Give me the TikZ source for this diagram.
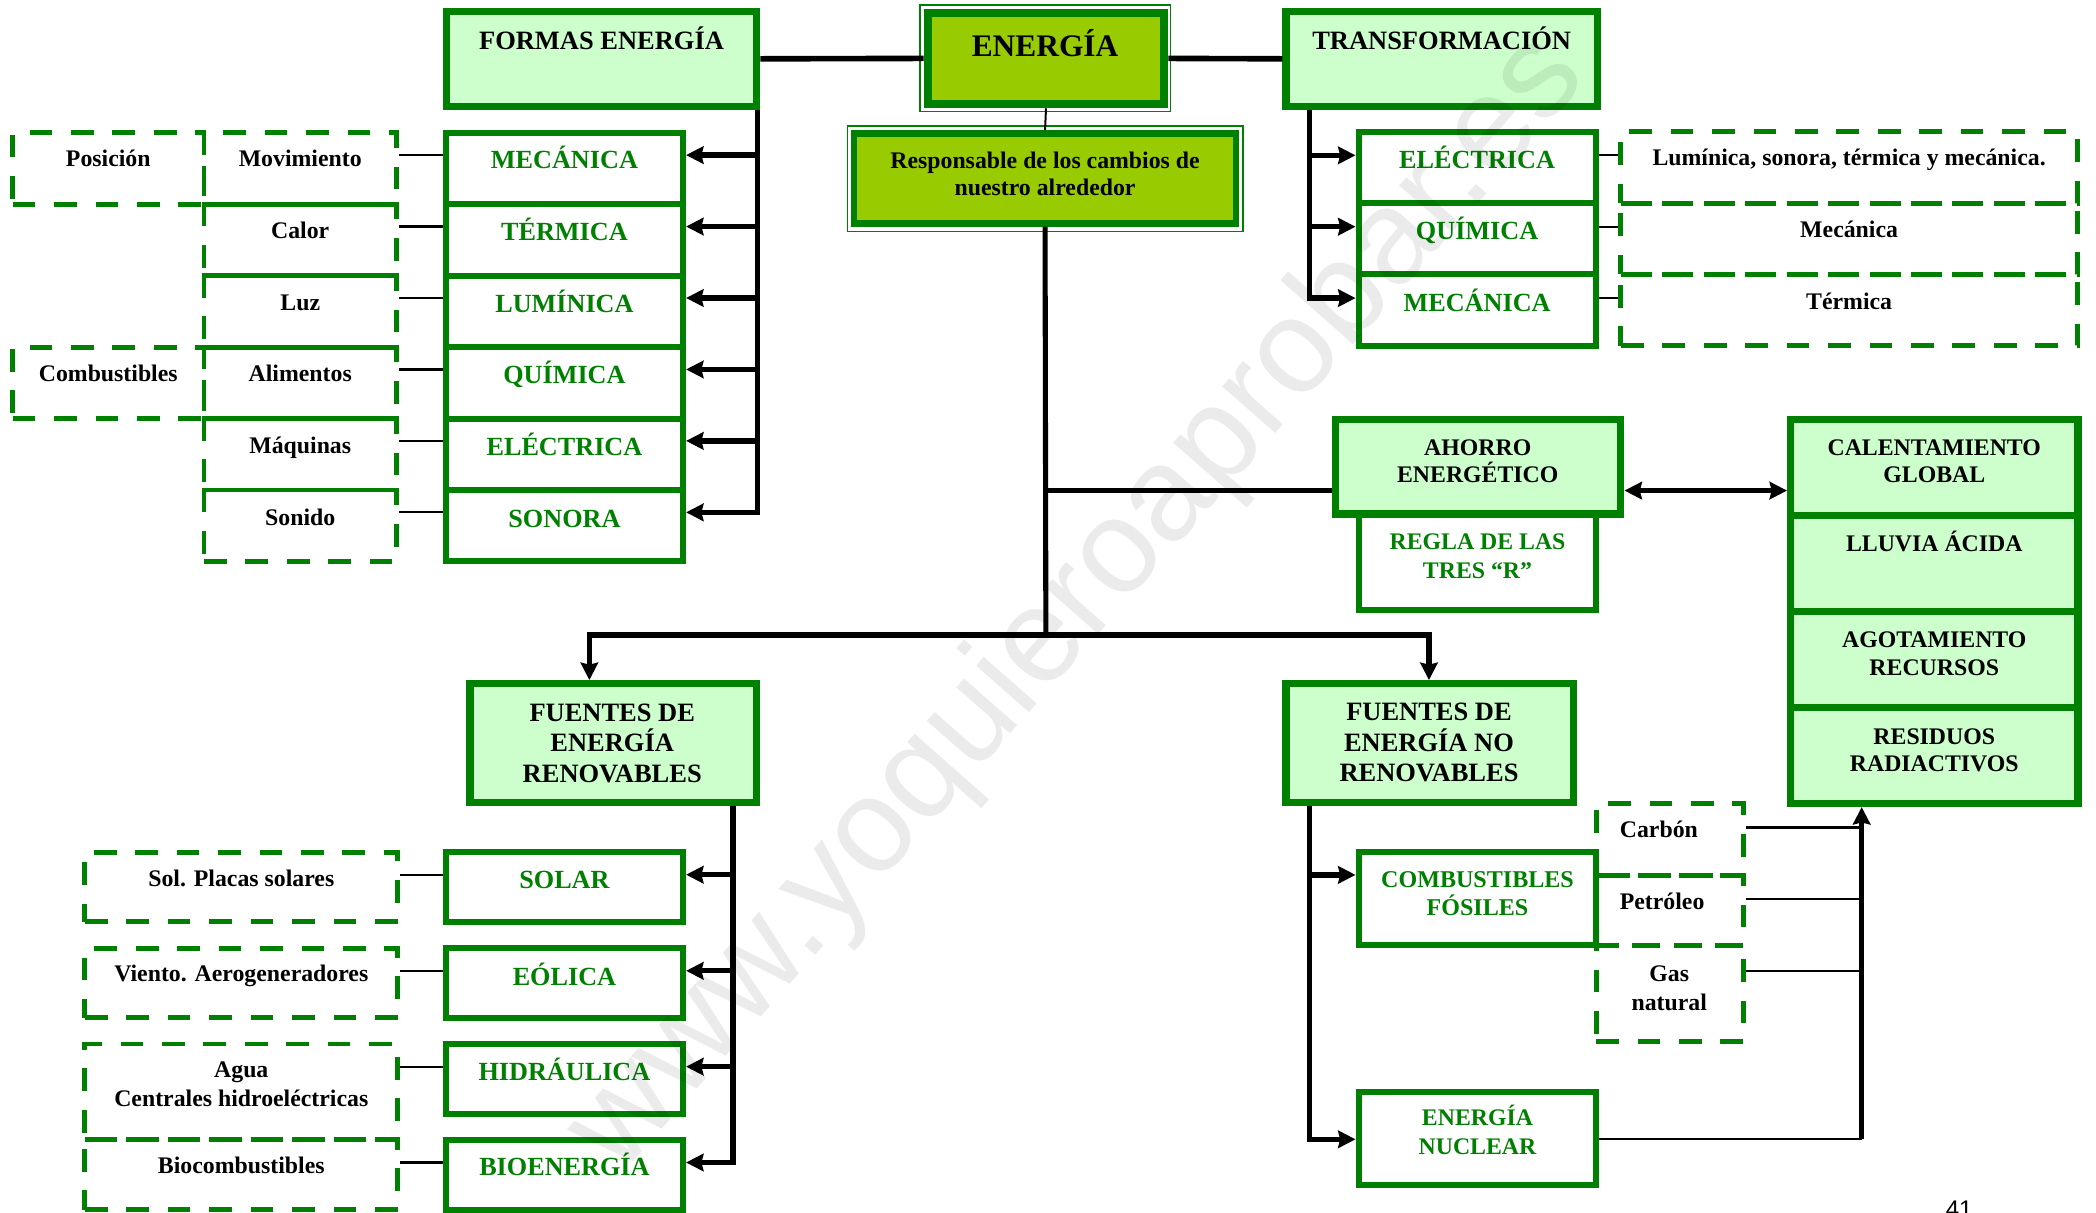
\documentclass[tikz,border=0pt]{standalone}
\usepackage{fontspec}
\setmainfont{Liberation Serif}
\newfontfamily\wmfont{Liberation Sans}
\usetikzlibrary{arrows.meta}
\definecolor{G}{HTML}{008000}
\definecolor{LG}{HTML}{CCFFCC}
\definecolor{YG}{HTML}{99CC00}
\newcommand\mlines[1]{\vtop{\lineskiplimit=-1000pt\let\\\cr\halign{\hfil##\hfil\cr#1\crcr}}}
\newcommand\bx[6]{\node[#1, minimum width={(#5)-(#3)}, minimum height={(#6)-(#4)}] (#2) at ({((#3)+(#5))/2},{((#4)+(#6))/2}) {};}
\begin{document}
\begin{tikzpicture}[x=1pt,y=-1pt,
 hdr/.style={draw=G, fill=LG, line width=5.5pt, inner sep=0pt},
 gb/.style={draw=G, fill=white, line width=4.5pt, inner sep=0pt},
 db/.style={draw=G, line width=3.7pt, dash pattern=on 17pt off 14pt, inner sep=0pt},
 tk/.style={line width=4pt},
 tn/.style={line width=1.6pt},
 ar/.style={-{Stealth[length=13pt,width=13pt,inset=1.5pt]}},
 arr2/.style={{Stealth[length=13pt,width=13pt,inset=1.5pt]}-{Stealth[length=13pt,width=13pt,inset=1.5pt]}},
 tH/.style={font=\fontsize{19.8}{23}\selectfont\bfseries, anchor=base, inner sep=0pt},
 tG/.style={font=\fontsize{19.6}{23}\selectfont\bfseries, text=G, anchor=base, inner sep=0pt},
 tS/.style={font=\fontsize{17.8}{21}\selectfont\bfseries, anchor=base, inner sep=0pt},
 tSG/.style={tS, text=G},
]
\useasboundingbox (0,0) rectangle (1568,907);
\clip (0,0) rectangle (1568,907);

% ---------- boxes ----------
\bx{hdr}{formas}{334}{8.5}{566}{79.5}
\bx{hdr}{transf}{962}{8.5}{1195}{79.5}
\bx{draw=G, line width=1.1pt, inner sep=0pt}{energiaO}{688.3}{3.7}{875.8}{83.6}
\bx{draw=G, fill=YG, line width=6pt, inner sep=0pt}{energia}{694}{9.4}{871}{78}
\bx{draw=G, line width=1.1pt, inner sep=0pt}{respO}{633.9}{94.3}{929.7}{173.3}
\bx{draw=G, fill=YG, line width=5pt, inner sep=0pt}{resp}{638.9}{99.8}{924.7}{167}

% left column
\bx{gb}{mecL}{333.5}{99.3}{511}{152.75}
\bx{gb}{terL}{333.5}{152.75}{511}{206.2}
\bx{gb}{lumL}{333.5}{206.2}{511}{259.65}
\bx{gb}{quiL}{333.5}{259.65}{511}{313.1}
\bx{gb}{eleL}{333.5}{313.1}{511}{366.55}
\bx{gb}{sonL}{333.5}{366.55}{511}{420}
\bx{db}{posD}{9.5}{99.3}{152.6}{152.75}
\bx{db}{movD}{152.6}{99.3}{296.6}{152.75}
\bx{db}{calD}{152.6}{152.75}{296.6}{206.2}
\bx{db}{luzD}{152.6}{206.2}{296.6}{259.65}
\bx{db}{comD}{9.5}{259.65}{152.6}{313.1}
\bx{db}{aliD}{152.6}{259.65}{296.6}{313.1}
\bx{db}{maqD}{152.6}{313.1}{296.6}{366.55}
\bx{db}{sonD}{152.6}{366.55}{296.6}{420}

% right column
\bx{gb}{eleR}{1016.3}{98.5}{1194.3}{151.9}
\bx{gb}{quiR}{1016.3}{151.9}{1194.3}{205.3}
\bx{gb}{mecR}{1016.3}{205.3}{1194.3}{258.7}
\bx{db}{eleD}{1212.6}{98.5}{1554}{151.9}
\bx{db}{quiD}{1212.6}{151.9}{1554}{205.3}
\bx{db}{mecD}{1212.6}{205.3}{1554}{258.7}

% ahorro
\bx{gb}{regla}{1016.3}{384.5}{1194.3}{456.5}
\bx{hdr}{ahorro}{999}{314}{1212.5}{384.5}

% effects column
\bx{hdr}{calent}{1339.6}{314}{1554.6}{385.75}
\bx{hdr}{lluvia}{1339.6}{385.75}{1554.6}{457.5}
\bx{hdr}{agot}{1339.6}{457.5}{1554.6}{529.25}
\bx{hdr}{resid}{1339.6}{529.25}{1554.6}{601}

% sources
\bx{hdr}{fuR}{351.5}{511.5}{565.7}{600.3}
\bx{hdr}{fuNR}{962}{511.5}{1177}{600.3}

% renewables
\bx{gb}{solar}{333.5}{637.7}{511}{689.4}
\bx{gb}{eolica}{333.5}{709.4}{511}{761.5}
\bx{gb}{hidra}{333.5}{781}{511}{833.3}
\bx{gb}{bio}{333.5}{852.7}{511}{905}
\bx{db}{solD}{63.5}{637.7}{297.5}{689.4}
\bx{db}{vieD}{63.5}{709.4}{297.5}{761.5}
\bx{db}{aguD}{63.5}{781}{297.5}{852.7}
\bx{db}{bioD}{63.5}{852.7}{297.5}{905}

% non renewables
\bx{gb}{comb}{1016.3}{637.7}{1194.3}{707}
\bx{gb}{nuc}{1016.3}{816.7}{1194.3}{886.8}
\bx{db}{carD}{1194}{601}{1304.2}{654.6}
\bx{db}{petD}{1194}{654.6}{1304.2}{707.5}
\bx{db}{gasD}{1194}{707.5}{1304.2}{779.3}

% ---------- helper coordinates ----------
\coordinate (vL) at (566.8,0);
\coordinate (vR) at (979.8,0);
\coordinate (vRen) at (548.3,0);
\coordinate (vNR) at (979.8,0);
\coordinate (vC) at (1392.7,0);
\coordinate (ta) at (782.4,367);
\coordinate (tj) at (782.4,475);
\coordinate (aR) at (440.9,0);
\coordinate (aNR) at (1069,0);
\foreach \n in {mecL,terL,lumL,quiL,eleL,sonL}{\coordinate (y\n) at ([yshift=10pt]\n.west);}
\foreach \n in {eleR,quiR,mecR}{\coordinate (y\n) at ([yshift=9pt]\n.west);}
\foreach \n in {solar,eolica,hidra,bio}{\coordinate (y\n) at ([yshift=9.2pt]\n.west);}
\coordinate (yComb) at (0,654.5);
\coordinate (yNuc) at (0,852.3);
\coordinate (yCar) at (0,619);
\coordinate (yPet) at (0,672.6);
\coordinate (yGas) at (0,726.4);

% ---------- connectors ----------
\draw[line width=4.2pt] (formas.east) -- (energia.west);
\draw[line width=4.2pt] (energia.east) -- (transf.west);
\draw[line width=1.5pt] (energia.south) -- (resp.north);

% formas
\draw[tk, ar] (formas.south -| vL) |- (sonL.east |- ysonL);
\foreach \n in {mecL,terL,lumL,quiL,eleL}{\draw[tk, ar] (vL |- y\n) -- (\n.east |- y\n);}
\draw[tn] (movD.east |- ymecL) -- (mecL.west |- ymecL);
\draw[tn] (calD.east |- yterL) -- (terL.west |- yterL);
\draw[tn] (luzD.east |- ylumL) -- (lumL.west |- ylumL);
\draw[tn] (aliD.east |- yquiL) -- (quiL.west |- yquiL);
\draw[tn] (maqD.east |- yeleL) -- (eleL.west |- yeleL);
\draw[tn] (sonD.east |- ysonL) -- (sonL.west |- ysonL);

% transformacion
\draw[tk, ar] (transf.south -| vR) |- (mecR.west |- ymecR);
\foreach \n in {eleR,quiR}{\draw[tk, ar] (vR |- y\n) -- (\n.west |- y\n);}
\draw[tn] (eleR.east |- yeleR) -- (eleD.west |- yeleR);
\draw[tn] (quiR.east |- yquiR) -- (quiD.west |- yquiR);
\draw[tn] (mecR.east |- ymecR) -- (mecD.west |- ymecR);

% trunk
\draw[line width=3.8pt] (resp.south) -- (tj);
\draw[tk] (ta) -- (ahorro.west |- ta);
\draw[tk, arr2] (ahorro.east |- ta) -- (calent.west |- ta);
\draw[tk, ar] (tj) -| (aR |- fuR.north);
\draw[tk, ar] (tj) -| (aNR |- fuNR.north);

% renewables
\draw[tk, ar] (fuR.south -| vRen) |- (bio.east |- ybio);
\foreach \n in {solar,eolica,hidra}{\draw[tk, ar] (vRen |- y\n) -- (\n.east |- y\n);}
\draw[tn] (solD.east |- ysolar) -- (solar.west |- ysolar);
\draw[tn] (vieD.east |- yeolica) -- (eolica.west |- yeolica);
\draw[tn] (aguD.east |- yhidra) -- (hidra.west |- yhidra);
\draw[tn] (bioD.east |- ybio) -- (bio.west |- ybio);

% non renewables
\draw[tk, ar] (fuNR.south -| vNR) |- (nuc.west |- yNuc);
\draw[tk, ar] (vNR |- yComb) -- (comb.west |- yComb);
\draw[tn] (carD.east |- yCar) -- (vC |- yCar);
\draw[tn] (petD.east |- yPet) -- (vC |- yPet);
\draw[tn] (gasD.east |- yGas) -- (vC |- yGas);
\draw[tn] (nuc.east |- yNuc) -- (vC |- yNuc);
\draw[tk, ar] (vC |- yNuc) -- (vC |- resid.south);

% ---------- texts ----------
\node[tH] (tFormas) at (450,36.7) {FORMAS ENERGÍA};
\node[tH] (tTransf) at (1078.5,36.7) {TRANSFORMACIÓN};
\node[font=\fontsize{23.5}{26}\selectfont\bfseries, anchor=base, inner sep=0pt] (tEnergia) at (781.8,42.4) {ENERGÍA};
\node[tS, font=\fontsize{17.8}{20}\selectfont\bfseries] (tResp) at (781.8,126) {\mlines{Responsable de los cambios de\\nuestro alrededor}};

\node[tG] (tMecL) at (422.25,126) {MECÁNICA};
\node[tG] (tTerL) at (422.25,180) {TÉRMICA};
\node[tG] (tLumL) at (422.25,233.5) {LUMÍNICA};
\node[tG] (tQuiL) at (422.25,287) {QUÍMICA};
\node[tG] (tEleL) at (422.25,341) {ELÉCTRICA};
\node[tG] (tSonL) at (422.25,394.5) {SONORA};

\node[tS] (tPos) at (81,124.5) {Posición};
\node[tS] (tMov) at (224.6,124.5) {Movimiento};
\node[tS] (tCal) at (224.6,178.5) {Calor};
\node[tS] (tLuz) at (224.6,232) {Luz};
\node[tS] (tCom) at (81,285.5) {Combustibles};
\node[tS] (tAli) at (224.6,285.5) {Alimentos};
\node[tS] (tMaq) at (224.6,339.5) {Máquinas};
\node[tS] (tSon) at (224.6,393) {Sonido};

\node[tG] (tEleR) at (1105,125.9) {ELÉCTRICA};
\node[tG] (tQuiR) at (1105,179) {QUÍMICA};
\node[tG] (tMecR) at (1105,233.2) {MECÁNICA};
\node[tS] (tEleD) at (1383.3,123.7) {Lumínica, sonora, térmica y mecánica.};
\node[tS] (tQuiD) at (1383.3,177.5) {Mecánica};
\node[tS] (tMecD) at (1383.3,231.3) {Térmica};

\node[tS, font=\fontsize{17.8}{20.6}\selectfont\bfseries] (tAhorro) at (1105.5,340.7) {\mlines{AHORRO\\ENERGÉTICO}};
\node[tSG] (tRegla) at (1105.3,411.4) {\mlines{REGLA DE LAS\\TRES “R”}};
\node[tS, font=\fontsize{17.8}{20.6}\selectfont\bfseries] (tCalent) at (1447,340.7) {\mlines{CALENTAMIENTO\\GLOBAL}};
\node[tS] (tLluvia) at (1447,412.3) {LLUVIA ÁCIDA};
\node[tS, font=\fontsize{17.8}{20.8}\selectfont\bfseries] (tAgot) at (1447,484.5) {\mlines{AGOTAMIENTO\\RECURSOS}};
\node[tS, font=\fontsize{17.8}{20.4}\selectfont\bfseries] (tResid) at (1447,556.6) {\mlines{RESIDUOS\\RADIACTIVOS}};

\node[tH, font=\fontsize{19.8}{22.9}\selectfont\bfseries] (tFuR) at (458,539.5) {\mlines{FUENTES DE\\ENERGÍA\\RENOVABLES}};
\node[tH, font=\fontsize{19.8}{22.9}\selectfont\bfseries] (tFuNR) at (1069,539) {\mlines{FUENTES DE\\ENERGÍA NO\\RENOVABLES}};

\node[tG] (tSolar) at (422.25,664.7) {SOLAR};
\node[tG] (tEolica) at (422.25,736.9) {EÓLICA};
\node[tG] (tHidra) at (422.25,808) {HIDRÁULICA};
\node[tG] (tBio) at (422.25,879.6) {BIOENERGÍA};
\node[tS] (tSol) at (180.5,663.2) {Sol. Placas solares};
\node[tS] (tVie) at (180.5,733.9) {Viento. Aerogeneradores};
\node[tS, font=\fontsize{17.8}{21.9}\selectfont\bfseries] (tAgu) at (180.5,805.7) {\mlines{Agua\\Centrales hidroeléctricas}};
\node[tS] (tBioD) at (180.5,878.2) {Biocombustibles};

\node[tSG, font=\fontsize{18}{21.4}\selectfont\bfseries] (tComb) at (1105.3,663.8) {\mlines{COMBUSTIBLES\\FÓSILES}};
\node[tSG, font=\fontsize{17.8}{21.4}\selectfont\bfseries] (tNuc) at (1105.3,842.2) {\mlines{ENERGÍA\\NUCLEAR}};
\node[tS] (tCar) at (1241,626.4) {Carbón};
\node[tS] (tPet) at (1243.4,680.3) {Petróleo};
\node[tS, font=\fontsize{17.8}{21.2}\selectfont\bfseries] (tGas) at (1248.7,734.4) {\mlines{Gas\\natural}};

\node[font=\wmfont\fontsize{18}{20}\selectfont, anchor=base, inner sep=0pt] (pnum) at (1465.6,910.6) {41};

% watermark
\node[font=\wmfont\fontsize{100}{100}\selectfont, text=black, opacity=0.08, rotate=48.6, inner sep=0pt] (wm) at (807,452) {www.yoquieroaprobar.es};
\end{tikzpicture}
\end{document}
